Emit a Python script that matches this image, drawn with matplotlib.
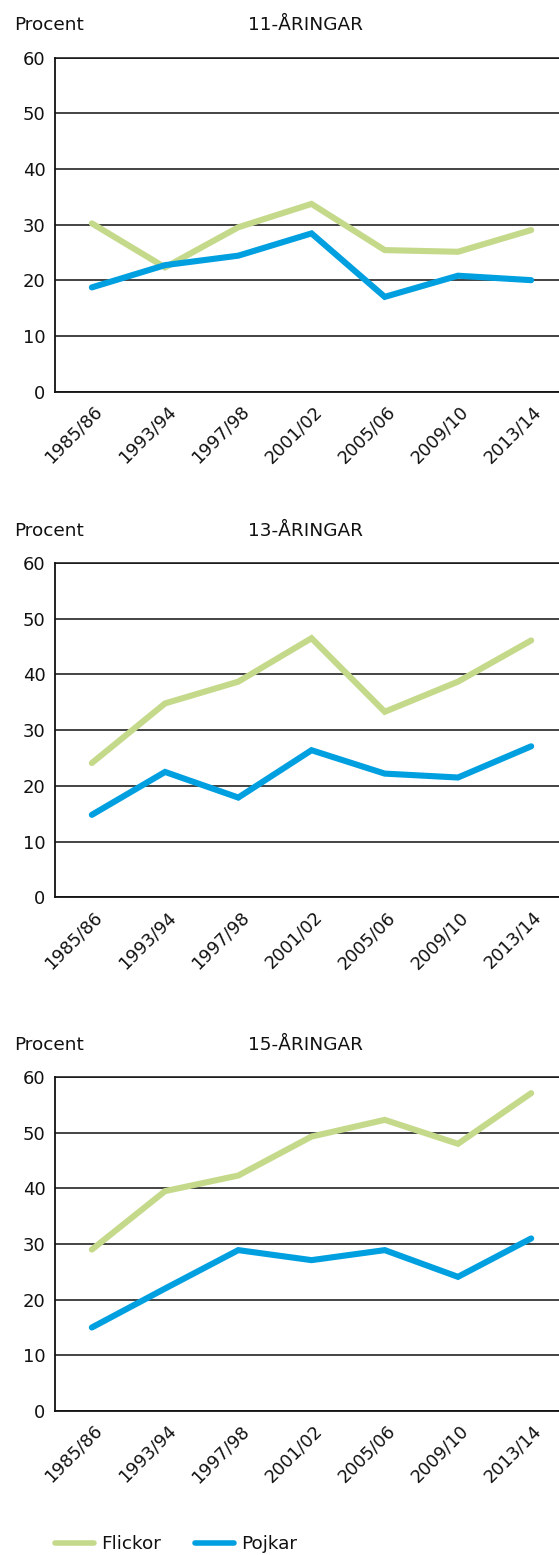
import matplotlib
matplotlib.use("Agg")
import matplotlib.pyplot as plt
from matplotlib.lines import Line2D
from matplotlib.transforms import ScaledTranslation

plt.rcParams['font.family'] = ['DejaVu Sans']

periods = ["1985/86", "1993/94", "1997/98", "2001/02", "2005/06", "2009/10", "2013/14"]
titles = ["11-ÅRINGAR", "13-ÅRINGAR", "15-ÅRINGAR"]
flickor_11 = [30.2, 22.3, 29.5, 33.7, 25.4, 25.1, 29.0]
pojkar_11 = [18.7, 22.7, 24.4, 28.4, 17.0, 20.8, 20.0]
flickor_13 = [24.1, 34.8, 38.7, 46.5, 33.3, 38.7, 46.1]
pojkar_13 = [14.8, 22.5, 17.9, 26.4, 22.2, 21.5, 27.1]
flickor_15 = [29.0, 39.5, 42.3, 49.3, 52.3, 48.0, 57.1]
pojkar_15 = [15.0, 22.0, 28.9, 27.1, 28.9, 24.1, 31.0]
series_labels = ["Flickor", "Pojkar"]
yticks = [0, 10, 20, 30, 40, 50, 60]

GREEN = "#c5d98a"
BLUE = "#00a0e0"
TXT = "#111111"
W, H = 559, 1555

fig = plt.figure(figsize=(W / 100, H / 100), dpi=100)

panels = [
    (titles[0], flickor_11, pojkar_11, 57.5, 391.5),
    (titles[1], flickor_13, pojkar_13, 563.0, 897.3),
    (titles[2], flickor_15, pojkar_15, 1077.0, 1411.0),
]

left_px = 54.5
fs = 13.3
tfs = 12.7
x = list(range(len(periods)))
for title, fl, pj, top_px, bot_px in panels:
    ax = fig.add_axes([left_px / W, 1 - bot_px / H, 1 - left_px / W, (bot_px - top_px) / H])
    ax.plot(x, fl, color=GREEN, lw=4.4, solid_capstyle='round', solid_joinstyle='miter', zorder=3)
    ax.plot(x, pj, color=BLUE, lw=4.4, solid_capstyle='round', solid_joinstyle='miter', zorder=3)
    ax.set_xlim(-0.51, 6.38)
    ax.set_ylim(0, 60)
    ax.set_yticks(yticks)
    ax.set_xticks(x)
    ax.set_xticklabels(periods, rotation=45, ha='right', va='top', rotation_mode='anchor')
    ax.tick_params(axis='both', length=0, labelsize=tfs, colors=TXT)
    ax.tick_params(axis='y', labelsize=13, pad=6.5)
    ax.tick_params(axis='x', pad=7)
    off = ScaledTranslation(1.5 / 100, -1 / 100, fig.dpi_scale_trans)
    for lab in ax.get_xticklabels():
        lab.set_transform(lab.get_transform() + off)
    ax.grid(axis='y', color=TXT, lw=1.1, zorder=1)
    ax.set_axisbelow(True)
    ax.spines['right'].set_visible(False)
    for s in ['left', 'bottom', 'top']:
        ax.spines[s].set_linewidth(1.3)
        ax.spines[s].set_color(TXT)
    ax.spines['top'].set_linewidth(1.1)
    ty = top_px - 32
    fig.text(14 / W, 1 - ty / H, "Procent", fontsize=fs, ha='left', va='center', color=TXT)
    fig.text(306 / W, 1 - ty / H, title, fontsize=fs, ha='center', va='center', color=TXT)

handles = [Line2D([], [], color=GREEN, lw=4.0, solid_capstyle='round'),
           Line2D([], [], color=BLUE, lw=4.0, solid_capstyle='round')]
fig.legend(handles, series_labels, loc='center left', bbox_to_anchor=(55 / W, 1 - 1544 / H),
           ncol=2, frameon=False, fontsize=fs, handlelength=2.1, handletextpad=0.4,
           columnspacing=1.85, borderpad=0, borderaxespad=0, labelcolor=TXT)

fig.savefig("out.png", dpi=100)
